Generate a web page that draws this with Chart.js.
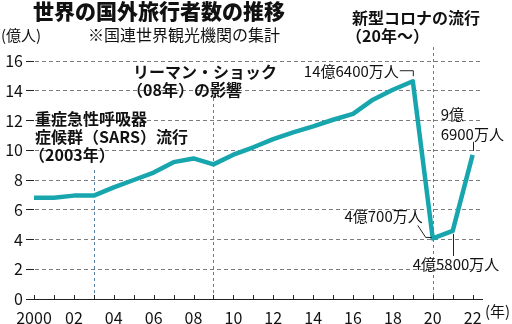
<!DOCTYPE html>
<html>
<head>
<meta charset="utf-8">
<script src="https://cdn.jsdelivr.net/npm/chart.js@4/dist/chart.umd.min.js"></script>
<style>
  body { margin: 0; background: #fff; }
</style>
</head>
<body>
<canvas id="travel" width="512" height="324"></canvas>
<script>
// 世界の国外旅行者数（億人）
var years = [2000, 2001, 2002, 2003, 2004, 2005, 2006, 2007, 2008, 2009, 2010,
             2011, 2012, 2013, 2014, 2015, 2016, 2017, 2018, 2019, 2020, 2021, 2022];
var travelers = [6.8, 6.8, 6.95, 6.95, 7.5, 8.0, 8.5, 9.2, 9.45, 9.05, 9.7,
                 10.2, 10.75, 11.2, 11.6, 12.05, 12.45, 13.4, 14.07, 14.64, 4.07, 4.58, 9.69];
var yTicks = [0, 2, 4, 6, 8, 10, 12, 14, 16];
var xTickLabels = ['2000', '02', '04', '06', '08', '10', '12', '14', '16', '18', '20', '22'];

var eventYears = [2003, 2009, 2020];
var eventLabels = [
  ['重症急性呼吸器', '症候群（SARS）流行', '（2003年）'],
  ['リーマン・ショック', '（08年）の影響'],
  ['新型コロナの流行', '（20年～）']
];

var FONT = '"Noto Sans CJK JP", "Noto Sans", sans-serif';

var textPlugin = {
  id: 'textPlugin',
  beforeDatasetsDraw: function(chart) {
    var ctx = chart.ctx;
    var xs = chart.scales.x;
    var bottom = chart.chartArea.bottom;
    // event lines
    var tops = [170, 98, 47];
    ctx.save();
    ctx.strokeStyle = '#5b7fa6';
    ctx.lineWidth = 1;
    ctx.setLineDash([3, 3]);
    eventYears.forEach(function(yr, i) {
      var x = Math.round(xs.getPixelForValue(yr)) + 0.5;
      ctx.beginPath();
      ctx.moveTo(x, tops[i]);
      ctx.lineTo(x, bottom);
      ctx.stroke();
    });
    ctx.setLineDash([]);
    // small year ticks on the axis
    ctx.strokeStyle = '#222';
    years.forEach(function(yr) {
      var x = Math.round(xs.getPixelForValue(yr)) + 0.5;
      ctx.beginPath();
      ctx.moveTo(x, bottom);
      ctx.lineTo(x, bottom - 4);
      ctx.stroke();
    });
    ctx.restore();
  },
  afterDraw: function(chart) {
    var ctx = chart.ctx;
    var xs = chart.scales.x, ys = chart.scales.y;
    ctx.save();
    ctx.fillStyle = '#111';
    ctx.textBaseline = 'top';

    // title
    ctx.font = '900 21px ' + FONT;
    ctx.fillText('世界の国外旅行者数の推移', 33, 1);
    ctx.font = '15px ' + FONT;
    ctx.fillText('(億人)', 1, 28);
    ctx.font = '16px ' + FONT;
    ctx.fillText('※国連世界観光機関の集計', 88, 27);

    // event labels
    var spots = [[35, 111], [133, 64], [352, 10]];
    ctx.font = 'bold 16px ' + FONT;
    eventLabels.forEach(function(lines, i) {
      lines.forEach(function(t, j) {
        var x = spots[i][0];
        if (t.charAt(0) === '（') x -= 6;
        ctx.fillText(t, x, spots[i][1] + j * 18);
      });
    });

    // year unit
    ctx.font = '15px ' + FONT;
    ctx.fillText('(年)', 485, 304);

    // value labels with leaders
    ctx.strokeStyle = '#222';
    ctx.lineWidth = 1;
    ctx.textBaseline = 'middle';
    var p19 = { x: xs.getPixelForValue(2019), y: ys.getPixelForValue(travelers[19]) };
    var p20 = { x: xs.getPixelForValue(2020), y: ys.getPixelForValue(travelers[20]) };
    var p21 = { x: xs.getPixelForValue(2021), y: ys.getPixelForValue(travelers[21]) };
    var p22 = { x: xs.getPixelForValue(2022), y: ys.getPixelForValue(travelers[22]) };

    ctx.textAlign = 'right';
    ctx.fillText('14億6400万人', p19.x - 14, p19.y - 10);
    ctx.beginPath();
    ctx.moveTo(p19.x - 13, p19.y - 10.5);
    ctx.lineTo(p19.x + 0.5, p19.y - 10.5);
    ctx.lineTo(p19.x + 0.5, p19.y - 5);
    ctx.stroke();

    ctx.fillText('4億700万人', p20.x - 10, p20.y - 22);
    ctx.beginPath();
    ctx.moveTo(p20.x - 15, p20.y - 13);
    ctx.lineTo(p20.x - 7, p20.y - 1);
    ctx.lineTo(p20.x - 1, p20.y - 1);
    ctx.stroke();

    ctx.textAlign = 'left';
    ctx.fillText('4億5800万人', p21.x - 40, 264);
    ctx.beginPath();
    ctx.moveTo(Math.round(p21.x) + 0.5, p21.y + 3);
    ctx.lineTo(Math.round(p21.x) + 0.5, 256);
    ctx.stroke();

    ctx.fillText('9億', p22.x - 32, p22.y - 41);
    ctx.fillText('6900万人', p22.x - 32, p22.y - 21);
    ctx.beginPath();
    ctx.moveTo(Math.round(p22.x) + 0.5, p22.y - 13);
    ctx.lineTo(Math.round(p22.x) + 0.5, p22.y - 4);
    ctx.stroke();

    ctx.restore();
  }
};

var points = years.map(function(y, i) { return { x: y, y: travelers[i] }; });

new Chart(document.getElementById('travel'), {
  type: 'line',
  data: {
    datasets: [{
      data: points,
      borderColor: '#17a6ae',
      borderWidth: 4.5,
      borderJoinStyle: 'round',
      pointRadius: 0,
      tension: 0,
      fill: false
    }]
  },
  options: {
    responsive: false,
    animation: false,
    events: [],
    layout: { padding: { top: 61, right: 30, left: 0, bottom: 0 } },
    plugins: { legend: { display: false }, tooltip: { enabled: false } },
    scales: {
      x: {
        type: 'linear',
        min: 2000,
        max: 2022.47,
        afterFit: function(scale) { scale.height = 25; },
        grid: { display: false },
        border: { display: true, color: '#222', width: 1 },
        ticks: {
          stepSize: 2,
          includeBounds: false,
          autoSkip: false,
          maxRotation: 0,
          padding: 1,
          color: '#111',
          font: { family: FONT, size: 16 },
          callback: function(v) {
            if (v === 2000) return xTickLabels[0];
            var k = xTickLabels.indexOf(String(v).slice(-2));
            return k >= 0 ? xTickLabels[k] : '';
          }
        }
      },
      y: {
        min: 0,
        max: 16,
        afterFit: function(scale) { scale.width = 34; },
        afterBuildTicks: function(scale) {
          scale.ticks = yTicks.map(function(v) { return { value: v }; });
        },
        border: { display: true, color: 'rgba(0,0,0,0)', dash: [4, 3] },
        grid: {
          color: '#7d7d7d',
          lineWidth: 1,
          tickLength: 8,
          tickColor: '#222',
          tickBorderDash: [1, 0]
        },
        ticks: {
          padding: 3,
          color: '#111',
          font: { family: FONT, size: 16 }
        }
      }
    }
  },
  plugins: [textPlugin]
});
</script>
</body>
</html>
